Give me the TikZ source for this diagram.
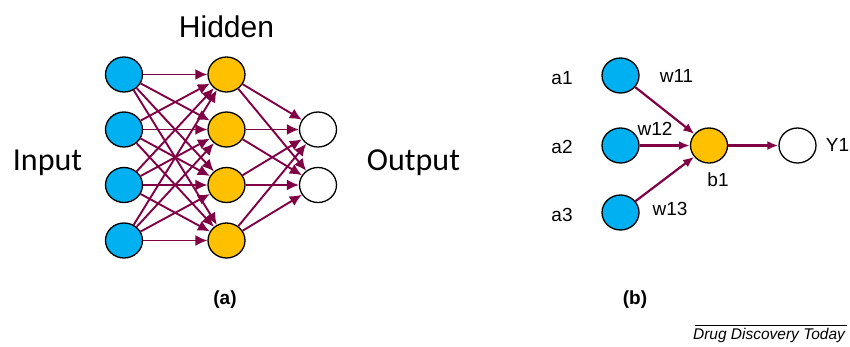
\documentclass[tikz,border=0pt]{standalone}
\usepackage{fontspec}
\setmainfont{Liberation Sans}
\newfontfamily\calfont{Carlito}
\usetikzlibrary{arrows.meta,shapes.geometric}
\definecolor{inblue}{RGB}{0,176,240}
\definecolor{hidyellow}{RGB}{255,192,0}
\definecolor{wire}{RGB}{128,0,68}

\begin{document}
\begin{tikzpicture}[x=1pt,y=1pt]
			\tikzstyle{every node}+=[inner sep=0pt]
			\tikzstyle{unit}=[ellipse,draw=black,line width=1.3pt,minimum width=37pt,minimum height=35pt]
			\tikzstyle{inunit}=[unit,fill=inblue]
			\tikzstyle{hidunit}=[unit,fill=hidyellow]
			\tikzstyle{outunit}=[unit,fill=white]
			\tikzstyle{wireA}=[draw=wire,line width=1.9pt,-{Latex[length=12pt,width=11pt]}]
			\tikzstyle{wireB}=[draw=wire,line width=2.2pt,-{Latex[length=11pt,width=9pt]}]
			\tikzstyle{biglbl}=[font=\calfont\fontsize{32}{32}\selectfont,anchor=base]
			\tikzstyle{lbl}=[font=\fontsize{19}{19}\selectfont]
			\tikzstyle{panel}=[font=\bfseries\fontsize{19}{19}\selectfont]
			\useasboundingbox (0,0) rectangle (850,-346);
			% (a) full network
			\node [inunit] (i1) at (124,-74.5) {};
			\node [inunit] (i2) at (124,-129.5) {};
			\node [inunit] (i3) at (124,-185) {};
			\node [inunit] (i4) at (124,-240.5) {};
			\node [hidunit] (h1) at (226.5,-74.5) {};
			\node [hidunit] (h2) at (226.5,-129.5) {};
			\node [hidunit] (h3) at (226.5,-185) {};
			\node [hidunit] (h4) at (226.5,-240.5) {};
			\node [outunit] (o1) at (318,-129.5) {};
			\node [outunit] (o2) at (318,-185) {};
			\draw [wireA] (i1) -- (h1);
			\draw [wireA] (i1) -- (h2);
			\draw [wireA] (i1) -- (h3);
			\draw [wireA] (i1) -- (h4);
			\draw [wireA] (i2) -- (h1);
			\draw [wireA] (i2) -- (h2);
			\draw [wireA] (i2) -- (h3);
			\draw [wireA] (i2) -- (h4);
			\draw [wireA] (i3) -- (h1);
			\draw [wireA] (i3) -- (h2);
			\draw [wireA] (i3) -- (h3);
			\draw [wireA] (i3) -- (h4);
			\draw [wireA] (i4) -- (h1);
			\draw [wireA] (i4) -- (h2);
			\draw [wireA] (i4) -- (h3);
			\draw [wireA] (i4) -- (h4);
			\draw [wireA] (h1) -- (o1);
			\draw [wireA] (h1) -- (o2);
			\draw [wireA] (h2) -- (o1);
			\draw [wireA] (h2) -- (o2);
			\draw [wireA] (h3) -- (o1);
			\draw [wireA] (h3) -- (o2);
			\draw [wireA] (h4) -- (o1);
			\draw [wireA] (h4) -- (o2);
			\node [font=\fontsize{30}{30}\selectfont,anchor=base] (hidlbl) at (226.5,-37) {Hidden};
			\node [biglbl] (inlbl) at (47.5,-170) {Input};
			\node [biglbl] (outlbl) at (413.5,-170) {Output};
			\node [panel] (pa) at (225,-300) {(a)};
			% (b) one neuron
			\node [inunit] (a1) at (620.5,-75.5) {};
			\node [inunit] (a2) at (620.5,-145.5) {};
			\node [inunit] (a3) at (620.5,-212.5) {};
			\node [hidunit] (b1) at (709,-145.5) {};
			\node [outunit] (y1) at (797.5,-145.5) {};
			\draw [wireB] (a1) -- (b1);
			\draw [wireB] (a2) -- (b1);
			\draw [wireB] (a3) -- (b1);
			\draw [wireB] (b1) -- (y1);
			\node [lbl] (a1lbl) at (562,-78.5) {a1};
			\node [lbl] (a2lbl) at (562,-146.5) {a2};
			\node [lbl] (a3lbl) at (562,-215) {a3};
			\node [lbl] (w11) at (676.5,-76) {w11};
			\node [lbl] (w12) at (655,-128.5) {w12};
			\node [lbl] (w13) at (670,-208.5) {w13};
			\node [lbl] (b1lbl) at (718,-180) {b1};
			\node [lbl] (y1lbl) at (837.5,-144.5) {Y1};
			\node [panel] (pb) at (635,-300) {(b)};
			% journal footer
			\coordinate (rulel) at (695,-325);
			\coordinate (ruler) at (847,-325);
			\draw [line width=0.6pt] (rulel) -- (ruler);
			\node [font=\itshape\fontsize{15.5}{15.5}\selectfont,anchor=base] (journal) at (769,-339.5) {Drug Discovery Today};
			\end{tikzpicture}
\end{document}
